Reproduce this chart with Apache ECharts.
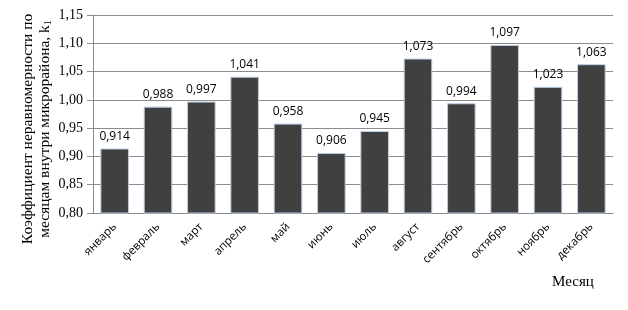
<!DOCTYPE html>
<html>
<head>
<meta charset="utf-8">
<script src="https://cdn.jsdelivr.net/npm/echarts@6/dist/echarts.min.js"></script>
<style>
  html, body { margin: 0; padding: 0; background: #fff; }
  #main { width: 628px; height: 310px; }
</style>
</head>
<body>
<div id="main"></div>
<script>
// данные
var months = ['январь', 'февраль', 'март', 'апрель', 'май', 'июнь',
              'июль', 'август', 'сентябрь', 'октябрь', 'ноябрь', 'декабрь'];
var kValues = [0.914, 0.988, 0.997, 1.041, 0.958, 0.906,
               0.945, 1.073, 0.994, 1.097, 1.023, 1.063];
var yTicks = [0.80, 0.85, 0.90, 0.95, 1.00, 1.05, 1.10, 1.15];

function comma(v, d) { return v.toFixed(d).replace('.', ','); }

var chart = echarts.init(document.getElementById('main'));

var option = {
    animation: false,
    grid: { left: 93, right: 15, top: 15, bottom: 97 },
    xAxis: {
        type: 'category',
        data: months,
        axisLine: { lineStyle: { color: '#8c8c8c', width: 1 } },
        axisTick: { show: false },
        axisLabel: {
            rotate: 45,
            interval: 0,
            margin: 12,
            color: '#000',
            fontFamily: 'Open Sans',
            fontSize: 11.5
        }
    },
    yAxis: {
        type: 'value',
        min: yTicks[0],
        max: yTicks[yTicks.length - 1],
        interval: 0.05,
        axisLine: { show: true, lineStyle: { color: '#8c8c8c' } },
        axisTick: { show: true, length: 6, lineStyle: { color: '#8c8c8c' } },
        splitLine: { lineStyle: { color: '#8c8c8c', width: 1 } },
        axisLabel: {
            margin: 10,
            color: '#000',
            fontFamily: 'Liberation Serif',
            fontSize: 14,
            formatter: function (v) { return comma(v, 2); }
        }
    },
    series: [{
        type: 'bar',
        data: kValues,
        barCategoryGap: '34%',
        itemStyle: { color: '#404040', borderColor: '#b9cde5', borderWidth: 1 },
        label: {
            show: true,
            position: 'top',
            distance: 6,
            color: '#000',
            fontFamily: 'Open Sans',
            fontSize: 12,
            formatter: function (p) { return comma(p.value, 3); }
        }
    }],
    graphic: [
        {
            type: 'text',
            x: 36, y: 129,
            rotation: Math.PI / 2,
            style: {
                text: '{a|Коэффициент неравномерности по}\n{a|месяцам внутри микрорайона, k}{s|1}',
                textAlign: 'center',
                textVerticalAlign: 'middle',
                fill: '#000',
                rich: {
                    a: { fontFamily: 'Liberation Serif', fontSize: 15.5, lineHeight: 17, fill: '#000' },
                    s: { fontFamily: 'Liberation Serif', fontSize: 10, lineHeight: 17, verticalAlign: 'bottom', padding: [6, 0, 0, 0], fill: '#000' }
                }
            }
        },
        {
            type: 'text',
            x: 573, y: 282,
            style: {
                text: 'Месяц',
                textAlign: 'center',
                textVerticalAlign: 'middle',
                fill: '#000',
                fontFamily: 'Liberation Serif',
                fontSize: 15
            }
        }
    ]
};

chart.setOption(option);
</script>
</body>
</html>
